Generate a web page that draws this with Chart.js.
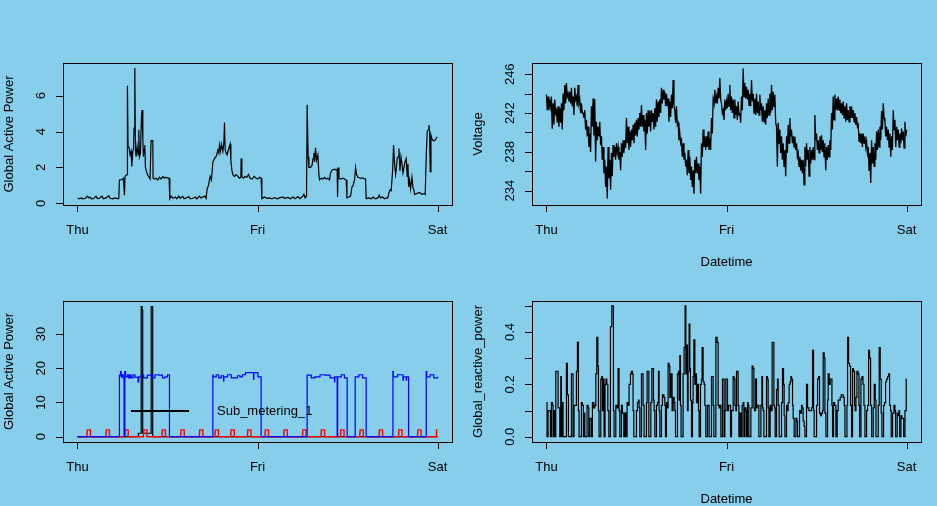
<!DOCTYPE html>
<html>
<head>
<meta charset="utf-8">
<script src="https://cdn.jsdelivr.net/npm/chart.js@4.4.1/dist/chart.umd.min.js"></script>
<style>
html, body { margin: 0; padding: 0; background: #87ceeb; overflow: hidden; }
canvas { position: absolute; }
</style>
</head>
<body>
<canvas id="c3" width="468" height="253" style="left:0;top:253px"></canvas>
<canvas id="c4" width="469" height="253" style="left:468px;top:253px"></canvas>
<canvas id="c1" width="468" height="280" style="left:0;top:0"></canvas>
<canvas id="c2" width="469" height="280" style="left:468px;top:0"></canvas>
<script>
// time axis in minutes from Thursday 00:00
var dayTicks = [0, 1440, 2880];
var dayLabels = ['Thu', 'Fri', 'Sat'];

// Global active power (kW), [minute, value]
var activePower = [
[3,0.3],[16,0.25],[32,0.3],[43,0.25],[64,0.28],[80,0.4],[91,0.3],[101,0.35],[112,0.25],[128,0.26],[149,0.4],[160,0.26],[176,0.28],[197,0.4],[208,0.25],[229,0.3],[251,0.42],[261,0.28],[283,0.25],[304,0.3],[323,0.25],[331,0.28],
[336,1.3],[357,1.32],[368,1.4],[376,0.45],[381,1.5],[389,1.57],[397,1.6],[400,6.56],[405,3.2],[413,3.1],[421,2.7],[429,2.9],[435,2.05],[443,2.9],[448,3.0],[453,4.2],[459,7.55],[464,3.0],[469,2.6],[477,3.2],[485,2.7],[491,4.1],[496,2.6],[504,2.8],[512,4.8],[517,5.2],[523,3.6],[528,2.6],[533,3.0],[539,3.25],[544,2.0],[549,1.85],[560,1.6],[571,1.48],[581,1.35],[587,1.35],[589,3.5],[603,3.5],[605,1.4],[616,1.35],[629,1.4],[643,1.3],[656,1.45],[669,1.35],[683,1.5],[696,1.4],[709,1.45],[723,1.4],[733,1.4],
[739,0.26],[749,0.4],[763,0.28],[784,0.35],[795,0.25],[811,0.4],[821,0.28],[843,0.38],[853,0.25],[869,0.3],[891,0.38],[901,0.25],[923,0.28],[944,0.35],[955,0.25],[976,0.4],[987,0.3],[1003,0.35],[1019,0.4],[1029,0.28],
[1037,0.8],[1048,1.0],[1061,1.5],[1072,1.3],[1083,2.3],[1096,2.5],[1109,2.6],[1123,2.97],[1131,2.8],[1136,3.25],[1144,2.9],[1152,3.3],[1163,2.9],[1171,3.4],[1176,4.5],[1181,3.0],[1189,2.8],[1197,2.7],[1208,3.0],[1221,3.3],[1227,2.4],[1235,1.85],[1243,1.6],[1256,1.5],[1269,1.6],[1283,1.5],[1296,1.4],[1307,1.45],[1309,2.5],[1315,1.5],[1328,1.4],[1341,1.5],[1355,1.45],[1368,1.6],[1381,1.4],[1397,1.35],[1413,1.5],[1429,1.4],[1443,1.35],[1456,1.45],[1469,1.4],
[1475,0.26],[1496,0.35],[1517,0.28],[1536,0.3],[1555,0.25],[1576,0.32],[1597,0.25],[1616,0.3],[1643,0.35],[1656,0.28],[1683,0.33],[1704,0.25],[1723,0.35],[1741,0.25],[1763,0.38],[1779,0.26],[1803,0.4],[1811,0.5],[1821,0.3],[1832,0.4],
[1837,5.5],[1845,2.6],[1851,2.0],[1864,2.0],[1875,2.1],[1885,2.5],[1891,2.8],[1896,2.3],[1904,3.1],[1912,2.4],[1923,2.7],[1931,1.6],[1936,1.3],[1949,1.4],[1963,1.35],[1976,1.45],[1989,1.35],[2003,1.4],[2016,1.3],[2024,1.7],[2035,1.85],[2056,1.9],[2069,1.85],[2077,1.9],[2080,0.35],[2085,2.0],[2091,1.4],[2104,1.35],[2123,1.4],[2136,1.35],[2149,1.3],[2155,0.3],[2171,0.35],[2184,0.4],[2195,0.9],[2205,1.0],[2216,1.3],[2224,2.0],[2232,1.6],[2243,1.45],[2264,1.4],[2285,1.4],[2304,1.35],
[2309,0.26],[2328,0.3],[2349,0.25],[2365,0.35],[2381,0.25],[2403,0.3],[2413,0.45],[2424,0.3],[2440,0.35],[2456,0.25],[2472,0.3],[2483,0.3],[2491,0.6],[2501,0.75],[2509,0.7],[2520,1.8],[2528,3.25],[2536,2.2],[2544,1.6],[2549,1.85],[2557,2.5],[2565,2.6],[2571,3.05],[2579,1.8],[2587,2.6],[2595,2.2],[2603,1.7],[2611,2.0],[2619,2.3],[2629,2.5],[2637,1.5],[2643,2.2],[2648,0.92],[2656,1.3],[2664,0.8],[2675,1.45],[2683,0.9],[2691,0.7],[2696,0.5],[2717,0.55],[2736,0.6],[2755,0.5],[2776,0.55],[2781,0.5],[2789,2.6],[2797,4.0],[2805,4.1],[2811,4.36],[2816,4.0],[2821,1.76],[2827,3.8],[2835,3.6],[2845,3.5],[2856,3.5],[2867,3.6],[2877,3.7]
];

// Voltage (V): two readings per 13.3-minute slot (first and second half of the slot)
var voltStep = 2880 / 216;
var voltFirst = [
243.9,243.7,243.4,243.7,243.0,243.4,242.3,242.7,242.5,243.0,
244.0,244.9,245.1,244.0,244.2,244.6,243.7,244.6,243.7,244.9,
243.4,243.0,242.0,242.3,241.3,240.6,239.9,242.7,243.5,243.4,
241.1,240.6,241.1,239.6,238.5,237.2,236.5,238.5,237.2,237.9,
238.7,238.5,238.9,238.5,238.0,238.9,239.2,239.2,241.5,240.6,
240.1,240.3,240.8,241.0,241.3,241.5,242.0,242.8,241.8,241.3,
242.0,242.3,242.2,242.3,242.0,242.5,243.4,243.2,243.4,244.6,
244.4,244.2,244.0,243.5,243.2,243.9,245.4,242.3,242.7,241.0,
239.9,239.2,238.9,237.9,237.2,238.2,237.5,236.5,236.1,237.2,
237.5,236.8,236.5,238.9,240.3,239.6,239.6,240.1,239.4,241.5,
243.4,244.4,243.7,244.6,245.6,243.0,242.3,243.4,243.2,244.0,
244.9,243.7,243.4,243.4,242.7,243.2,242.0,243.7,246.6,245.1,
244.7,244.4,244.0,245.4,244.0,243.5,244.0,243.2,243.9,243.0,
242.7,242.3,243.0,243.5,244.0,244.9,244.2,243.9,240.6,241.0,
240.3,239.6,238.9,238.2,239.6,240.8,241.5,240.3,239.6,239.6,
238.9,237.9,237.5,237.2,237.2,238.5,238.9,238.2,238.5,238.2,
238.5,241.8,239.9,239.2,239.6,239.7,239.2,238.9,238.5,238.7,
239.2,242.0,243.7,243.9,243.5,243.7,243.4,243.0,243.2,242.7,
243.0,242.3,242.7,242.7,242.3,242.0,241.6,240.8,239.9,239.9,
239.9,239.6,239.1,238.5,237.9,239.2,238.5,238.9,240.1,240.3,
240.6,242.2,243.0,241.1,240.6,240.3,239.9,239.6,242.3,241.3,
240.6,240.3,239.9,240.4,240.1,241.1
];
var voltSecond = [
242.3,242.3,242.7,240.4,240.8,242.0,241.0,240.6,241.0,240.3,
242.3,243.0,243.7,243.2,243.0,242.7,241.8,243.4,242.7,243.0,
242.0,242.0,241.5,240.3,239.6,238.5,238.0,240.6,239.7,237.0,
239.2,239.6,238.7,237.2,235.8,234.4,233.2,235.3,234.1,235.5,
237.5,237.2,237.9,237.2,236.1,237.5,237.9,238.4,238.9,238.2,
238.5,239.2,238.9,239.7,239.6,240.3,240.6,240.6,240.1,238.2,
239.9,240.6,240.1,241.1,240.3,240.6,241.1,241.6,242.0,243.0,
243.4,242.7,242.7,241.1,241.6,242.5,242.7,241.0,240.8,239.2,
238.9,237.5,237.2,236.5,235.6,235.8,235.1,234.4,233.7,235.8,
235.8,235.1,233.7,237.5,238.5,238.2,238.5,238.2,238.2,239.9,
243.0,243.0,243.0,243.5,243.4,242.0,241.3,242.3,242.5,242.7,
242.3,242.0,241.5,241.8,241.3,241.8,241.0,242.3,243.7,243.5,
243.4,242.8,242.7,243.2,242.0,241.8,242.0,241.8,242.3,241.1,
241.1,240.8,241.5,241.8,242.0,242.3,242.7,241.0,236.5,238.9,
237.9,237.2,236.5,235.5,237.9,238.9,239.6,238.9,238.5,238.2,
237.5,236.5,236.1,235.8,234.6,236.5,237.2,235.5,236.8,237.2,
237.2,239.2,238.2,237.9,238.2,238.0,237.5,236.1,237.2,237.5,
238.2,240.3,241.3,242.3,242.3,242.3,242.0,241.8,241.5,241.1,
241.3,241.1,241.5,241.5,241.1,240.8,240.6,239.1,238.9,238.5,
238.9,238.5,237.9,236.1,234.8,236.8,236.5,237.2,238.2,238.5,
239.2,240.3,241.5,239.6,239.2,238.5,237.5,238.2,240.3,238.5,
239.2,238.5,238.9,239.2,238.4,239.6
];
var voltLast = 240.3;

// Energy sub-metering (Wh), [minute, value], value held until the next point
var subMetering1 = [[0,0],[487,1],[510,38],[517,37],[522,1],[590,38],[602,0],[2880,0]];
var subMetering2 = [[0,0],[76,1],[78,2],[104,0],[228,1],[230,2],[256,0],[378,1],[380,2],[406,0],[528,1],[530,2],[556,0],[676,1],[678,2],[704,0],[826,1],[828,2],[854,0],[975,1],[977,2],[1003,0],[1100,1],[1102,2],[1128,0],[1226,1],[1228,2],[1254,0],[1360,1],[1362,2],[1388,0],[1500,1],[1502,2],[1528,0],[1650,1],[1652,2],[1678,0],[1800,1],[1802,2],[1828,0],[1948,1],[1950,2],[1976,0],[2104,1],[2106,2],[2132,0],[2258,1],[2260,2],[2286,0],[2412,1],[2414,2],[2440,0],[2568,1],[2570,2],[2596,0],[2720,1],[2722,2],[2748,0],[2871,2],[2880,2]];
var subMetering3 = [[0,0],[336,18],[345,19],[350,17.5],[360,18.1],[366,17.2],[373,0],[379,19],[385,17.5],[400,18.1],[410,17.2],[420,18],[430,17.2],[445,18.1],[460,17.3],[485,16],[490,17.5],[510,18.1],[530,17.2],[560,18],[600,17.2],[620,18.1],[650,18],[680,17.2],[700,17.5],[720,18.1],[736,0],
[1083,18],[1086,17.5],[1110,18.1],[1130,17.2],[1150,17.8],[1168,16.3],[1171,17.5],[1200,18.1],[1230,17.2],[1280,17.8],[1300,17.5],[1320,18.1],[1344,18.7],[1408,16.8],[1411,18.7],[1443,17.5],[1469,0],
[1837,18],[1870,17.2],[1900,17.5],[1940,18.1],[1980,18],[2020,17.2],[2056,16],[2058,17.5],[2077,0],[2081,17.5],[2110,18.1],[2135,17.2],[2157,0],[2221,17.5],[2250,18.1],[2280,17.2],[2309,0],
[2523,19],[2526,17.5],[2560,18.1],[2603,16.5],[2606,17.5],[2629,16.5],[2632,17.5],[2648,0],[2789,19],[2793,17.5],[2820,18.1],[2850,17.2],[2880,17.5]];

// Global reactive power (kW), [minute, value], value held until the next point
var reactivePower = [
[0,0.13],[5,0],[13,0.1],[27,0.1],[32,0],[40,0.13],[48,0.12],[53,0],[61,0.1],[69,0],[75,0.25],[88,0.25],[93,0.11],[99,0.11],[107,0],[115,0.23],[120,0],[125,0.13],[133,0],[160,0.28],[168,0.16],[176,0],[200,0.24],[208,0.24],[213,0],[221,0.12],[227,0.12],[235,0.12],[240,0.25],[248,0.36],[256,0.1],[261,0],[280,0.13],[288,0.12],[296,0],[301,0.09],[307,0],[325,0.12],[333,0.11],[339,0],[347,0.07],[360,0],[368,0.13],[379,0.11],[387,0.12],[395,0.24],[403,0.38],[411,0.27],[416,0.1],[421,0],[435,0.22],[443,0.23],[448,0.1],[453,0.22],[461,0],[469,0.2],[477,0.22],[483,0.2],[491,0.1],[499,0],[512,0.42],[523,0.5],[531,0.5],[536,0.1],[541,0],[555,0.12],[565,0.11],[573,0.26],[581,0.1],[587,0],[600,0.12],[608,0.09],[619,0],[627,0.09],[635,0],[645,0.13],[653,0.12],[661,0.2],[672,0.24],[680,0.25],[688,0.24],[693,0.1],[699,0],[720,0.1],[728,0.13],[736,0.14],[741,0.11],[747,0],[760,0.24],[768,0.24],[773,0.12],[781,0],[800,0.13],[805,0.25],[813,0.25],[819,0],[835,0.13],[843,0.26],[851,0.26],[856,0.14],[861,0.1],[867,0],[880,0.12],[888,0.13],[896,0.25],[901,0.1],[907,0],[920,0.12],[928,0.16],[939,0.15],[947,0.12],[952,0],[960,0.13],[965,0.11],[973,0.28],[981,0.27],[987,0.15],[995,0.24],[1000,0.24],[1005,0.1],[1013,0.15],[1021,0.13],[1027,0.1],[1032,0],[1048,0.24],[1056,0.25],[1061,0.14],[1067,0.31],[1072,0.12],[1077,0],[1093,0.24],[1101,0.34],[1109,0.5],[1115,0.24],[1123,0.35],[1128,0.1],[1133,0.25],[1141,0.43],[1147,0.26],[1152,0.14],[1160,0],[1168,0.13],[1173,0.23],[1179,0.37],[1187,0.2],[1195,0.24],[1200,0.13],[1208,0.2],[1216,0.1],[1221,0],[1232,0.2],[1240,0.22],[1245,0.34],[1253,0.21],[1261,0.2],[1267,0.12],[1275,0],[1288,0.12],[1296,0.12],[1301,0],[1320,0.23],[1328,0.23],[1333,0.12],[1339,0],[1355,0.38],[1365,0.36],[1373,0.12],[1381,0.11],[1389,0.12],[1395,0],[1408,0.22],[1416,0.22],[1421,0],[1427,0.1],[1435,0.22],[1443,0.22],[1448,0.1],[1456,0.12],[1472,0],
[1480,0.1],[1488,0.1],[1493,0.23],[1501,0.22],[1507,0.12],[1515,0.1],[1520,0.25],[1528,0.25],[1533,0.12],[1539,0],[1547,0.09],[1555,0],[1565,0.12],[1573,0.13],[1579,0],[1587,0.11],[1595,0.1],[1600,0],[1608,0.13],[1613,0.12],[1619,0],[1635,0.11],[1645,0.27],[1653,0.26],[1659,0.11],[1664,0.1],[1672,0.22],[1680,0.11],[1685,0.12],[1693,0.12],[1699,0],[1715,0.12],[1723,0.23],[1728,0.11],[1733,0.1],[1739,0],[1760,0.23],[1768,0.22],[1773,0.11],[1779,0],[1789,0.12],[1797,0.1],[1805,0.36],[1813,0.36],[1819,0.12],[1824,0.11],[1829,0],[1840,0.18],[1848,0.22],[1853,0.12],[1861,0],[1880,0.13],[1888,0.26],[1896,0.2],[1901,0.08],[1907,0],[1920,0.12],[1928,0.1],[1933,0.13],[1941,0.2],[1949,0.21],[1955,0.23],[1960,0.22],[1968,0.12],[1973,0.07],[1981,0],[1995,0.07],[2003,0.06],[2008,0],[2024,0.1],[2032,0.09],[2040,0.12],[2045,0.11],[2053,0.06],[2061,0.04],[2067,0],[2080,0.2],[2088,0.11],[2099,0.1],[2112,0.1],[2120,0.11],[2128,0.33],[2136,0.1],[2141,0],[2160,0.12],[2168,0.22],[2176,0.23],[2184,0.09],[2192,0.08],[2200,0.09],[2208,0.1],[2213,0.32],[2221,0.3],[2227,0.09],[2235,0],[2248,0.14],[2253,0.24],[2261,0.2],[2269,0.22],[2277,0.22],[2283,0.12],[2288,0],[2296,0.13],[2304,0.12],[2309,0.12],[2315,0],[2325,0.1],[2333,0.14],[2341,0.14],[2349,0.15],[2357,0.16],[2365,0.16],[2373,0.15],[2381,0.12],[2387,0],[2403,0.12],[2408,0.38],[2416,0.28],[2424,0.27],[2432,0.12],[2440,0],[2448,0.26],[2456,0.25],[2464,0.12],[2469,0.1],[2475,0.15],[2483,0.25],[2491,0.24],[2499,0.12],[2504,0],[2515,0.22],[2523,0.23],[2531,0.2],[2539,0.12],[2547,0],[2560,0.1],[2568,0.12],[2576,0.33],[2584,0.3],[2592,0.12],[2600,0],[2613,0.11],[2621,0.2],[2629,0.14],[2635,0],[2653,0.12],[2661,0.34],[2669,0.22],[2677,0.09],[2683,0],[2696,0.12],[2704,0.13],[2712,0.21],[2720,0.22],[2728,0.23],[2736,0.24],[2744,0.12],[2752,0.1],[2757,0],[2768,0.09],[2779,0.12],[2787,0.1],[2792,0],[2805,0.09],[2813,0.08],[2819,0.1],[2824,0],[2835,0.08],[2843,0.07],[2851,0.07],[2856,0],[2867,0.1],[2872,0.1],[2877,0.22],[2880,0.22]
];

var FONT = '13px "Liberation Sans", Arial, Helvetica, sans-serif';

function toXY(pairs) {
    return pairs.map(function(p) { return {x: p[0], y: p[1]}; });
}

function voltPoints() {
    var pts = [];
    for (var i = 0; i < voltFirst.length; i++) {
        pts.push({x: i * voltStep, y: voltFirst[i]});
        pts.push({x: (i + 0.5) * voltStep, y: voltSecond[i]});
    }
    pts.push({x: 2880, y: voltLast});
    return pts;
}

// R base-graphics style box, ticks and labels
function rAxes(cfg) {
    return {
        id: 'rAxes',
        afterDraw: function(chart) {
            var ctx = chart.ctx, a = chart.chartArea;
            var xs = chart.scales.x, ys = chart.scales.y;
            ctx.save();
            ctx.strokeStyle = '#000';
            ctx.fillStyle = '#000';
            ctx.lineWidth = 1;
            ctx.font = FONT;
            ctx.strokeRect(Math.round(a.left) + 0.5, Math.round(a.top) + 0.5,
                Math.round(a.right - a.left), Math.round(a.bottom - a.top));
            ctx.beginPath();
            dayTicks.forEach(function(t) {
                var x = Math.round(xs.getPixelForValue(t)) + 0.5;
                ctx.moveTo(x, a.bottom);
                ctx.lineTo(x, a.bottom + 7);
            });
            cfg.yTicks.forEach(function(v) {
                var y = Math.round(ys.getPixelForValue(v)) + 0.5;
                ctx.moveTo(a.left, y);
                ctx.lineTo(a.left - 7, y);
            });
            ctx.stroke();

            ctx.textAlign = 'center';
            ctx.textBaseline = 'middle';
            dayTicks.forEach(function(t, i) {
                ctx.fillText(dayLabels[i], xs.getPixelForValue(t), a.bottom + 25);
            });
            cfg.yLabels.forEach(function(v) {
                ctx.save();
                ctx.translate(a.left - 22, ys.getPixelForValue(v));
                ctx.rotate(-Math.PI / 2);
                ctx.fillText(cfg.fmt(v), 0, 0);
                ctx.restore();
            });
            ctx.save();
            ctx.translate(a.left - 54, (a.top + a.bottom) / 2);
            ctx.rotate(-Math.PI / 2);
            ctx.fillText(cfg.yTitle, 0, 0);
            ctx.restore();
            if (cfg.xTitle) {
                ctx.fillText(cfg.xTitle, (a.left + a.right) / 2, a.bottom + 57);
            }
            if (cfg.legend) {
                ctx.beginPath();
                ctx.lineWidth = 2;
                ctx.moveTo(a.left + 68, a.top + 110);
                ctx.lineTo(a.left + 126, a.top + 110);
                ctx.stroke();
                ctx.textAlign = 'left';
                ctx.fillText(cfg.legend, a.left + 154, a.top + 110);
            }
            ctx.restore();
        }
    };
}

function panel(id, datasets, pad, yMin, yMax, cfg) {
    return new Chart(document.getElementById(id), {
        type: 'line',
        data: {datasets: datasets},
        options: {
            responsive: false,
            animation: false,
            devicePixelRatio: 1,
            events: [],
            layout: {padding: pad},
            elements: {point: {radius: 0}, line: {tension: 0, fill: false}},
            plugins: {legend: {display: false}, tooltip: {enabled: false}, title: {display: false}},
            scales: {
                x: {type: 'linear', display: false, min: -115.2, max: 2995.2},
                y: {type: 'linear', display: false, min: yMin, max: yMax}
            }
        },
        plugins: [rAxes(cfg)]
    });
}

function line(data, color, width, stepped) {
    return {data: data, borderColor: color, borderWidth: width, stepped: stepped || false, pointRadius: 0};
}

panel('c1', [line(toXY(activePower), '#000', 1.2)],
    {left: 63, top: 63, right: 16, bottom: 75}, -0.095, 7.825,
    {yTicks: [0, 2, 4, 6], yLabels: [0, 2, 4, 6], fmt: String, yTitle: 'Global Active Power'});

panel('c2', [line(voltPoints(), '#000', 1.3)],
    {left: 64, top: 63, right: 16, bottom: 75}, 232.53, 247.16,
    {yTicks: [234, 236, 238, 240, 242, 244, 246], yLabels: [234, 238, 242, 246], fmt: String,
     yTitle: 'Voltage', xTitle: 'Datetime'});

// R draws sub-metering 1, then 2, then 3 on top; Chart.js paints dataset 0 last
panel('c3', [
        line(toXY(subMetering3), '#0000ff', 1.2, true),
        line(toXY(subMetering2), '#ff0000', 1.4, true),
        line(toXY(subMetering1), '#000', 1.2, true)
    ],
    {left: 63, top: 48, right: 16, bottom: 64}, -1.55, 39.64,
    {yTicks: [0, 10, 20, 30], yLabels: [0, 10, 20, 30], fmt: String,
     yTitle: 'Global Active Power', legend: 'Sub_metering_1'});

panel('c4', [line(toXY(reactivePower), '#000', 1.2, true)],
    {left: 64, top: 48, right: 16, bottom: 64}, -0.0202, 0.5184,
    {yTicks: [0, 0.1, 0.2, 0.3, 0.4, 0.5], yLabels: [0, 0.2, 0.4],
     fmt: function(v) { return v.toFixed(1); },
     yTitle: 'Global_reactive_power', xTitle: 'Datetime'});
</script>
</body>
</html>
